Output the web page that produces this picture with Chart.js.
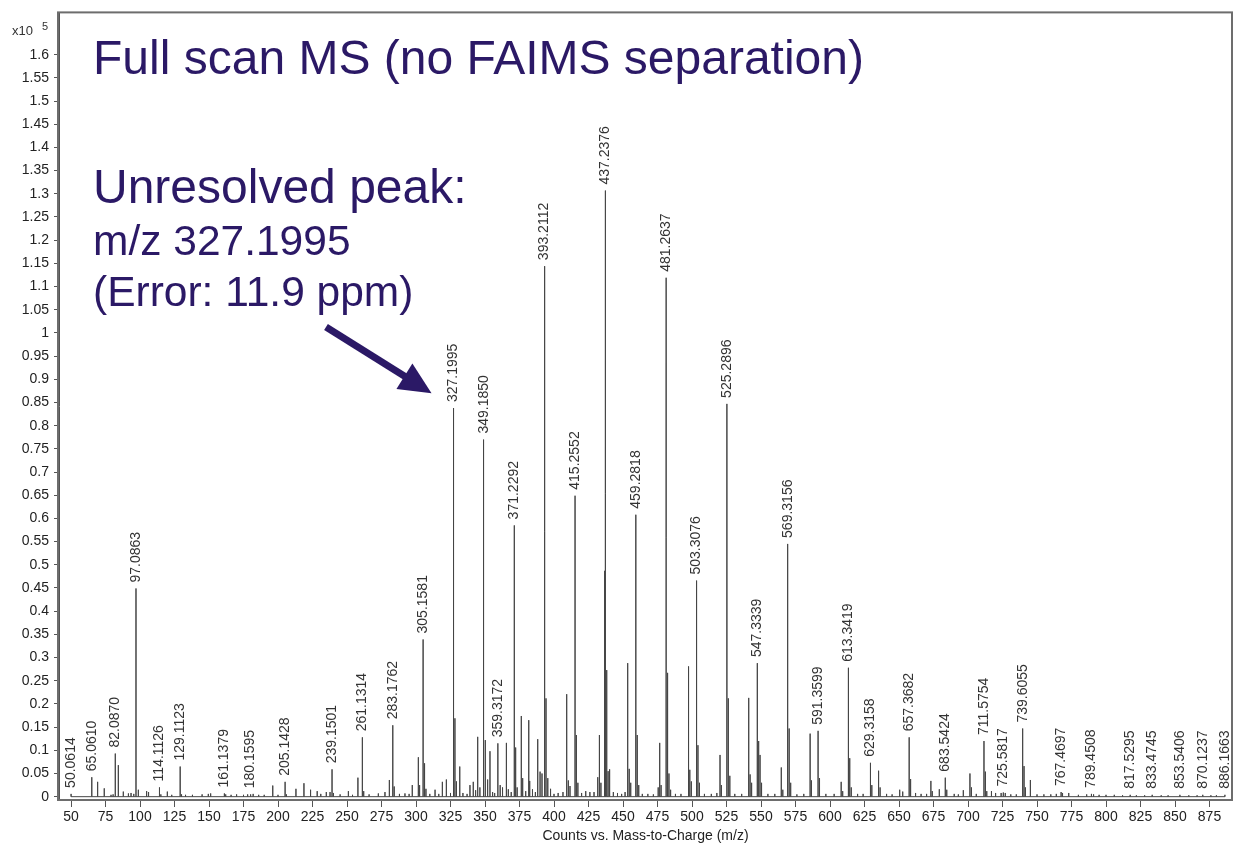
<!DOCTYPE html>
<html>
<head>
<meta charset="utf-8">
<script src="https://cdn.jsdelivr.net/npm/chart.js@4.4.0/dist/chart.umd.min.js"></script>
<style>
  html, body { margin: 0; padding: 0; background: #fff; }
  #wrap { width: 1234px; height: 845px; position: relative; }
</style>
</head>
<body>
<div id="wrap"><canvas id="ms"></canvas></div>
<script>
// labelled peaks: m/z text as printed, intensity in x10^5 counts
const labelMz = ['50.0614','65.0610','82.0870','97.0863','114.1126','129.1123','161.1379','180.1595',
  '205.1428','239.1501','261.1314','283.1762','305.1581','327.1995','349.1850','359.3172','371.2292',
  '393.2112','415.2552','437.2376','459.2818','481.2637','503.3076','525.2896','547.3339','569.3156',
  '591.3599','613.3419','629.3158','657.3682','683.5424','711.5754','725.5817','739.6055','767.4697',
  '789.4508','817.5295','833.4745','853.5406','870.1237','886.1663'];
const labelHeight = [0.006,0.042,0.093,0.449,0.020,0.065,0.007,0.005,
  0.032,0.059,0.128,0.154,0.339,0.838,0.770,0.115,0.585,
  1.144,0.649,1.307,0.608,1.119,0.466,0.847,0.288,0.545,
  0.142,0.278,0.073,0.128,0.041,0.120,0.009,0.147,0.010,
  0.006,0.004,0.004,0.004,0.004,0.004];

// unlabelled peaks
const minorMz = [69.3,74.1,79,80.5,84.3,87.9,91.6,93.5,95.5,98.8,104.8,106.2,115.1,119.8,123,130.1,133,138,145,
  149.5,151.2,162.1,166,170,175,178,182,186,190,196.2,200,206.1,213,218.8,223.6,228.4,231,235,237.7,240.2,245,
  251,254,257.9,262.1,266,272.7,277.5,280.7,284.2,288,292,295,297.3,301.7,302.6,306.2,307.2,310,313.8,316.5,
  319.1,322,325,328.2,329.3,331.7,334,337,339.1,341.5,343.2,344.7,346.3,348.6,350.2,351.9,353.6,355.5,357,
  361,362.7,365.5,366.9,369,372.2,373.3,376.3,377.3,379.5,381.7,382.4,384.4,386.5,388.2,389.9,391.3,394.2,
  395.5,397.5,400,403,406.5,409.2,410.4,411.6,416.2,417.3,420,423,426,429,431.7,432.9,434,436.3,436.9,438.2,
  439.2,440.3,443,446,449,451.5,453.4,454.5,455.6,460.3,461.4,464,468,472,475.5,476.6,477.6,482.3,483.3,
  484.5,488,492,497.5,498.4,499.5,504.3,505.4,509,514,518,520.3,521.3,526.3,527.4,531,536,541.1,542.1,543.2,
  548.3,549.3,550.4,555,560,564.7,565.8,570.4,571.5,576,581,585.6,586.6,592.4,597,603,608.1,609.2,614.3,
  615.4,620,624,630.3,635.2,636.3,641,645,650.5,652.7,658.4,662,666,670,673.1,674.1,679.2,684.6,690,693,
  696.6,701.4,702.5,706,712.6,713.6,717,720,724,727,731,735,740.6,741.6,745.2,750,755,760,764,768.5,773,
  780,786,791,795,800,806,812,822,828,840,845,860,866,876,880];
const minorHeight = [0.032,0.018,0.004,0.005,0.068,0.011,0.007,0.008,0.006,0.015,0.012,0.010,0.005,0.011,0.004,0.005,0.004,0.004,0.005,
  0.006,0.007,0.005,0.004,0.005,0.004,0.005,0.006,0.004,0.004,0.024,0.004,0.005,0.017,0.029,0.015,0.012,0.006,0.010,0.010,0.008,0.005,
  0.012,0.004,0.041,0.012,0.005,0.007,0.010,0.036,0.022,0.006,0.007,0.006,0.025,0.085,0.025,0.072,0.017,0.006,0.015,0.006,
  0.032,0.037,0.008,0.169,0.033,0.065,0.008,0.006,0.025,0.032,0.014,0.129,0.020,0.099,0.122,0.037,0.098,0.010,0.008,
  0.025,0.020,0.116,0.016,0.010,0.106,0.020,0.174,0.040,0.012,0.165,0.034,0.016,0.010,0.124,0.054,0.050,0.212,
  0.040,0.017,0.006,0.008,0.010,0.221,0.035,0.023,0.133,0.030,0.008,0.012,0.010,0.010,0.042,0.133,0.030,0.275,0.487,0.273,
  0.055,0.059,0.010,0.008,0.006,0.010,0.288,0.060,0.030,0.133,0.025,0.006,0.006,0.005,0.020,0.116,0.025,0.267,0.050,
  0.015,0.006,0.006,0.281,0.058,0.033,0.111,0.030,0.006,0.006,0.008,0.090,0.025,0.212,0.045,0.006,0.006,0.213,0.048,0.030,
  0.120,0.090,0.030,0.006,0.006,0.063,0.015,0.147,0.030,0.005,0.006,0.136,0.035,0.040,0.006,0.006,0.032,0.012,0.083,
  0.020,0.006,0.006,0.025,0.056,0.020,0.006,0.005,0.015,0.011,0.038,0.008,0.006,0.006,0.034,0.012,0.016,0.015,0.006,0.005,
  0.014,0.050,0.020,0.006,0.054,0.012,0.012,0.008,0.008,0.008,0.005,0.005,0.066,0.020,0.036,0.005,0.005,0.005,0.006,0.008,0.008,
  0.004,0.005,0.005,0.004,0.004,0.004,0.003,0.003,0.003,0.003,0.003,0.003,0.003,0.003,0.003];

const xTicks = [50,75,100,125,150,175,200,225,250,275,300,325,350,375,400,425,450,475,500,525,550,575,600,
  625,650,675,700,725,750,775,800,825,850,875];
const yTicks = [0,0.05,0.1,0.15,0.2,0.25,0.3,0.35,0.4,0.45,0.5,0.55,0.6,0.65,0.7,0.75,0.8,0.85,0.9,0.95,
  1,1.05,1.1,1.15,1.2,1.25,1.3,1.35,1.4,1.45,1.5,1.55,1.6];

const INK = '#2b1966';
const FONT = '"Liberation Sans", Arial, sans-serif';
Chart.defaults.font.family = FONT;

// stick spectrum: each peak goes up from the baseline and back down
const peaks = labelMz.map((t, i) => [parseFloat(t), labelHeight[i]])
  .concat(minorMz.map((m, i) => [m, minorHeight[i]]))
  .sort((a, b) => a[0] - b[0]);
const trace = [];
peaks.forEach(([m, h]) => { trace.push({x: m, y: 0}, {x: m, y: h}, {x: m, y: 0}); });

const peakLabels = {
  id: 'peakLabels',
  afterDatasetsDraw(chart) {
    const {ctx, scales: {x, y}} = chart;
    ctx.save();
    ctx.font = '14px ' + FONT;
    ctx.fillStyle = '#333';
    ctx.textAlign = 'left';
    ctx.textBaseline = 'middle';
    labelMz.forEach((t, i) => {
      const px = x.getPixelForValue(parseFloat(t));
      const py = y.getPixelForValue(labelHeight[i]);
      ctx.save();
      ctx.translate(px, py - 6);
      ctx.rotate(-Math.PI / 2);
      ctx.fillText(t, 0, 0);
      ctx.restore();
    });
    ctx.restore();
  }
};

const decorations = {
  id: 'decorations',
  afterDraw(chart) {
    const {ctx, chartArea: a, scales: {x, y}} = chart;
    ctx.save();
    // frame
    ctx.strokeStyle = '#6d6d6d';
    ctx.lineWidth = 2;
    ctx.strokeRect(a.left - 1, a.top - 1, a.right - a.left + 1, a.bottom - a.top + 2);
    // exponent
    ctx.fillStyle = '#333';
    ctx.font = '13px ' + FONT;
    ctx.textBaseline = 'alphabetic';
    ctx.fillText('x10', 12, 35);
    ctx.font = '11px ' + FONT;
    ctx.fillText('5', 42, 30);
    // annotation text
    ctx.fillStyle = INK;
    ctx.font = '48px ' + FONT;
    ctx.fillText('Full scan MS (no FAIMS separation)', 93, 74);
    ctx.fillText('Unresolved peak:', 93, 203);
    ctx.font = '42.5px ' + FONT;
    ctx.fillText('m/z 327.1995', 93, 255);
    ctx.fillText('(Error: 11.9 ppm)', 93, 306);
    // arrow pointing at the 327 peak
    const tx = x.getPixelForValue(327.1995) - 22, ty = y.getPixelForValue(0.87);
    const sx = 326, sy = 327;
    const len = Math.hypot(tx - sx, ty - sy), ux = (tx - sx) / len, uy = (ty - sy) / len;
    const bx = tx - ux * 32, by = ty - uy * 32;
    ctx.strokeStyle = INK;
    ctx.lineWidth = 7;
    ctx.beginPath();
    ctx.moveTo(sx, sy);
    ctx.lineTo(bx + ux * 4, by + uy * 4);
    ctx.stroke();
    ctx.beginPath();
    ctx.moveTo(tx, ty);
    ctx.lineTo(bx - uy * 15, by + ux * 15);
    ctx.lineTo(bx + uy * 15, by - ux * 15);
    ctx.closePath();
    ctx.fill();
    ctx.restore();
  }
};

new Chart(document.getElementById('ms'), {
  type: 'line',
  data: {
    datasets: [{
      data: trace,
      borderColor: '#454545',
      borderWidth: 1,
      pointRadius: 0,
      tension: 0,
      fill: false
    }]
  },
  options: {
    responsive: true,
    maintainAspectRatio: false,
    animation: false,
    layout: { padding: { top: 12, right: 2, left: 0, bottom: 0 } },
    plugins: { legend: { display: false }, tooltip: { enabled: false } },
    scales: {
      x: {
        type: 'linear',
        min: 41.3,
        max: 891.3,
        afterFit: s => { s.height = 46; },
        afterBuildTicks: s => { s.ticks = xTicks.map(v => ({value: v})); },
        ticks: { autoSkip: false, maxRotation: 0, color: '#222', font: {size: 14}, padding: 2 },
        grid: { drawOnChartArea: false, tickLength: 8, color: '#555' },
        border: { color: '#555', width: 1 },
        title: {
          display: true,
          text: 'Counts vs. Mass-to-Charge (m/z)',
          color: '#222',
          font: {size: 14},
          padding: {top: 0, bottom: 0}
        }
      },
      y: {
        min: -0.005,
        max: 1.689,
        afterFit: s => { s.width = 59; },
        afterBuildTicks: s => { s.ticks = yTicks.map(v => ({value: v})); },
        ticks: { autoSkip: false, color: '#222', font: {size: 14}, padding: 5,
          callback: v => String(+v.toFixed(2)) },
        grid: { drawOnChartArea: false, tickLength: 5, color: '#555' },
        border: { color: '#555', width: 1 }
      }
    }
  },
  plugins: [peakLabels, decorations]
});
</script>
</body>
</html>
